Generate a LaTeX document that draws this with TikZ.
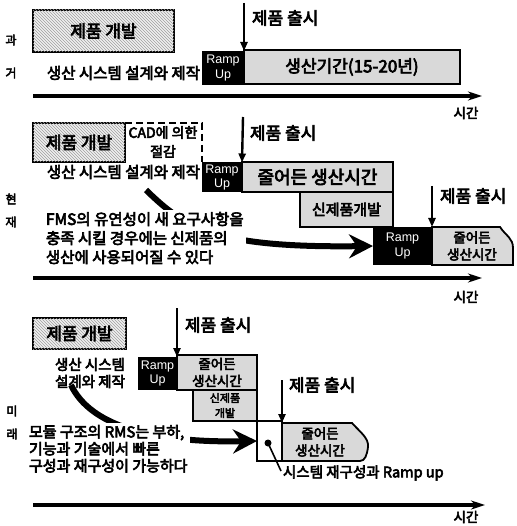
\documentclass[tikz,border=0pt]{standalone}
\usepackage{fontspec}
\setmainfont{Noto Sans CJK KR}[AutoFakeBold=4]
\newfontfamily\lat{Liberation Sans}
\usetikzlibrary{arrows.meta,patterns}
\begin{document}
\begin{tikzpicture}[x=1pt,y=-1pt,
  every node/.style={inner sep=0pt, outer sep=0pt},
  devbox/.style={draw, line width=2.2pt, fill=gray!12, postaction={pattern=north west lines, pattern color=gray!75}},
  prodbox/.style={draw, line width=1.8pt, fill=gray!30},
  rampbox/.style={fill=black, text=white, align=center, font=\lat\fontsize{12.5}{14.5}\selectfont},
  axis/.style={line width=4pt, -{Stealth[length=14pt,width=9pt]}},
  launch/.style={line width=2.4pt, -{Triangle[length=9pt,width=7pt]}},
  bigarrow/.style={line width=6pt, -{Stealth[length=24pt,width=24pt,inset=8pt]}},
  big/.style={font=\fontsize{17}{19}\selectfont\bfseries},
  mid/.style={font=\fontsize{15.5}{17}\selectfont\bfseries},
  small/.style={font=\fontsize{13.5}{17}\selectfont\bfseries, align=center},
  side/.style={font=\fontsize{12}{13}\selectfont\bfseries},
  timel/.style={font=\fontsize{13.5}{15}\selectfont\bfseries},
]
\useasboundingbox (0,0) rectangle (516,526);

% ---------------- Section 1 ----------------
\node[side] (s1a) at (11,40) {과};
\node[side] (s1b) at (11,73) {거};
\node[devbox, minimum width=141pt, minimum height=42pt, big] (dev1) at (103.5,31) {제품 개발};
\node[rampbox, minimum width=42pt, minimum height=34pt] (ramp1) at (223,68) {Ramp\\Up};
\node[prodbox, minimum width=216pt, minimum height=34pt, big] (prod1) at (352,67) {생산기간(15-20년)};
\coordinate (l1) at (244,3);
\draw[launch] (l1) -- (ramp1.north east);
\node[big, anchor=west] (t1) at (252,18) {제품 출시};
\node[mid, anchor=east] (m1) at (200,73) {생산 시스템 설계와 제작};
\coordinate (a1s) at (33,96);
\coordinate (a1e) at (482,96);
\draw[axis] (a1s) -- (a1e);
\node[timel] (time1) at (466,113) {시간};

% ---------------- Section 2 ----------------
\node[side] (s2a) at (11,199) {현};
\node[side] (s2b) at (11,222) {재};
\node[devbox, minimum width=92pt, minimum height=39pt, big] (dev2) at (79,142.5) {제품 개발};
\node[rampbox, minimum width=40pt, minimum height=30pt] (ramp2) at (222,177.5) {Ramp\\Up};
\draw[line width=2.5pt, dash pattern=on 7pt off 4pt] (dev2.north east) -| (ramp2.north west);
\node[font=\fontsize{14}{19}\selectfont\bfseries, align=center] (cad) at (163,142) {CAD에 의한\\절감};
\node[prodbox, minimum width=151pt, minimum height=30pt, font=\fontsize{18}{20}\selectfont\bfseries] (prod2a) at (317.5,177) {줄어든 생산시간};
\node[prodbox, minimum width=93pt, minimum height=35pt, font=\fontsize{15}{17}\selectfont\bfseries] (dev2b) at (346.5,209.5) {신제품개발};
\coordinate (l2) at (243,117);
\draw[launch] (l2) -- (ramp2.north east);
\node[big, anchor=west] (t2) at (250,133) {제품 출시};
\node[mid, anchor=east] (m2) at (200,172) {생산 시스템 설계와 제작};
\node[rampbox, minimum width=59pt, minimum height=38pt] (ramp3) at (402.5,246) {Ramp\\Up};
\draw[prodbox] (432,227) -- (500,227) .. controls (506,236) and (513,238) .. (513,248) -- (513,265) -- (432,265) -- cycle;
\node[small] (prod2b) at (472,246) {줄어든\\생산시간};
\coordinate (l3) at (432,186);
\draw[launch] (l3) -- (ramp3.north east);
\node[big, anchor=west] (t3) at (440,196) {제품 출시};
\coordinate (b2s) at (146,190);
\draw[bigarrow] (b2s) .. controls (185,228) and (215,248) .. (ramp3.west);
\node[font=\fontsize{15.5}{19}\selectfont\bfseries, align=left, anchor=north west, fill=white, inner sep=2pt] (txt2) at (44,210) {FMS의 유연성이 새 요구사항을\\충족 시킬 경우에는 신제품의\\생산에 사용되어질 수 있다};
\coordinate (a2s) at (33,278);
\coordinate (a2e) at (482,278);
\draw[axis] (a2s) -- (a2e);
\node[timel] (time2) at (466,297) {시간};

% ---------------- Section 3 ----------------
\node[side] (s3a) at (12,411) {미};
\node[side] (s3b) at (12,434) {래};
\node[devbox, minimum width=93pt, minimum height=31pt, big] (dev3) at (79.5,333.5) {제품 개발};
\node[font=\fontsize{14.5}{17}\selectfont\bfseries, align=center] (m3) at (90,373) {생산 시스템\\설계와 제작};
\node[rampbox, minimum width=39pt, minimum height=33pt] (ramp4) at (157.5,373.5) {Ramp\\Up};
\node[prodbox, minimum width=80pt, minimum height=35pt, small] (prod3a) at (217,372.5) {줄어든\\생산시간};
\node[prodbox, minimum width=64pt, minimum height=31pt, font=\fontsize{11}{15}\selectfont\bfseries, align=center] (dev3b) at (225,405.5) {신제품\\개발};
\coordinate (l4) at (177,308);
\draw[launch] (l4) -- (ramp4.north east);
\node[big, anchor=west] (t4) at (185,325) {제품 출시};
\node[draw, line width=1.8pt, fill=white, minimum width=25pt, minimum height=40pt] (recon) at (269.5,441) {};
\draw[prodbox] (282,423) -- (352,423) .. controls (360,432) and (369,438) .. (368,447) .. controls (367,455) and (365,461) .. (360,461) -- (282,461) -- cycle;
\node[small] (prod3b) at (320,442) {줄어든\\생산시간};
\coordinate (l5) at (282,380);
\coordinate (p3top) at (282,423);
\draw[launch] (l5) -- (p3top);
\node[big, anchor=west] (t5) at (289,385) {제품 출시};
\coordinate (dot) at (268,443);
\coordinate (dotend) at (281,471);
\fill (dot) circle (3.5pt);
\draw[line width=1.6pt] (dot) -- (dotend);
\node[font=\fontsize{14.5}{16}\selectfont\bfseries, anchor=west] (reclbl) at (283,473) {시스템 재구성과 Ramp up};
\coordinate (b3s) at (71,385);
\draw[bigarrow] (b3s) .. controls (90,425) and (150,443) .. (recon.west);
\node[font=\fontsize{15}{17}\selectfont\bfseries, align=left, anchor=north west, fill=white, inner sep=2pt] (txt3) at (27,423) {모듈 구조의 RMS는 부하,\\기능과 기술에서 빠른\\구성과 재구성이 가능하다};
\coordinate (a3s) at (33,505);
\coordinate (a3e) at (485,505);
\draw[axis] (a3s) -- (a3e);
\node[timel] (time3) at (466,517) {시간};
\end{tikzpicture}
\end{document}
